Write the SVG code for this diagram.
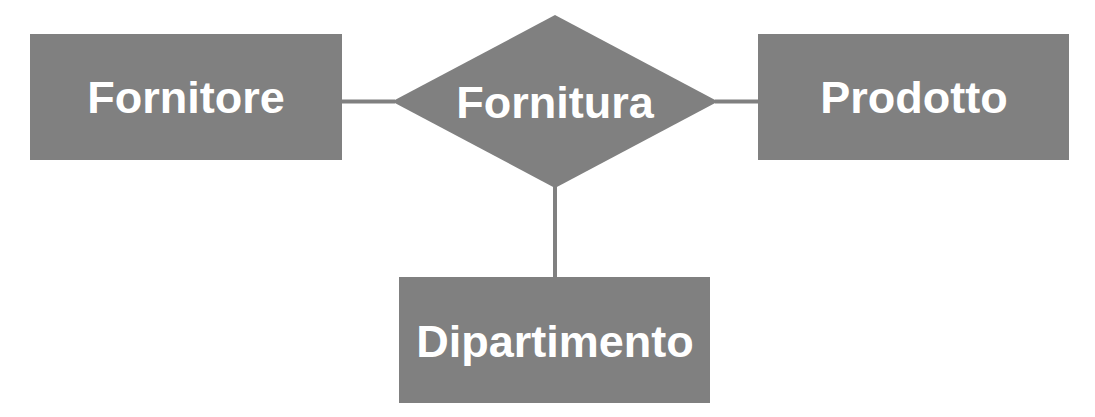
<svg xmlns="http://www.w3.org/2000/svg" width="1095" height="417" viewBox="0 0 1095 417">
<style>
.shape{fill:#808080;}
.lbl{font-family:"Liberation Sans",Arial,sans-serif;font-weight:bold;font-size:45px;fill:#ffffff;text-anchor:middle;}
.conn{stroke:#808080;stroke-width:4;fill:none;}
</style>
<rect width="1095" height="417" fill="#ffffff"/>
<g id="connectors">
<line class="conn" x1="342" y1="101.5" x2="395" y2="101.5"/>
<line class="conn" x1="715" y1="101.5" x2="758" y2="101.5"/>
<line class="conn" x1="555" y1="185" x2="555" y2="277"/>
</g>
<g id="fornitore">
<rect class="shape" x="30" y="34" width="312" height="126"/>
<text class="lbl" x="186" y="113">Fornitore</text>
</g>
<g id="fornitura">
<polygon class="shape" points="555,15 718,101.5 555,188 392,101.5"/>
<text class="lbl" x="555" y="118">Fornitura</text>
</g>
<g id="prodotto">
<rect class="shape" x="758" y="34" width="311" height="126"/>
<text class="lbl" x="914" y="113">Prodotto</text>
</g>
<g id="dipartimento">
<rect class="shape" x="399" y="277" width="311" height="126"/>
<text class="lbl" x="555" y="357">Dipartimento</text>
</g>
</svg>
